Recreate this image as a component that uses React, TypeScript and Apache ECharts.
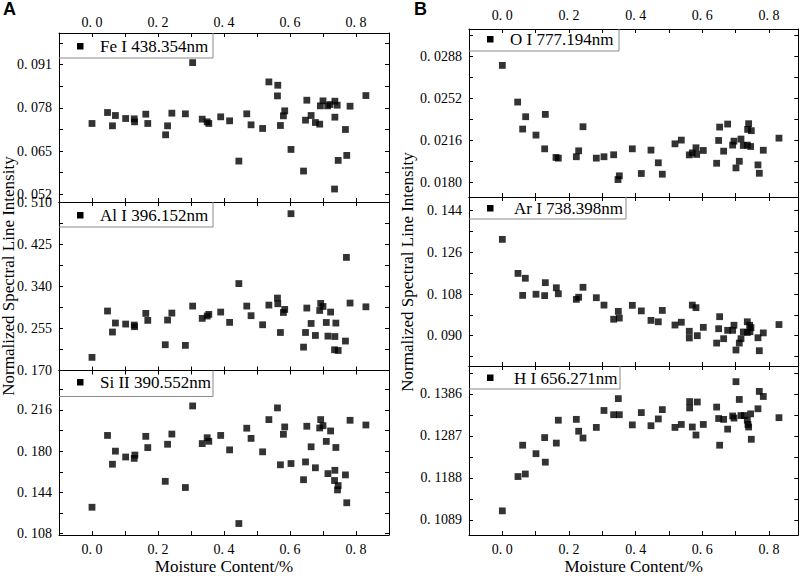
import React, { useEffect, useRef } from "react";
import * as echarts from "echarts";

// ---- data (moisture content, normalized intensity) ----
const feData = [[0.000,0.0733],[0.047,0.0766],[0.062,0.0726],[0.071,0.0757],[0.102,0.0748],[0.128,0.0747],[0.129,0.0738],[0.163,0.0761],[0.169,0.0733],[0.223,0.0699],[0.229,0.0726],[0.242,0.0764],[0.283,0.0762],[0.305,0.0916],[0.334,0.0746],[0.349,0.0738],[0.354,0.0733],[0.390,0.0753],[0.417,0.0741],[0.445,0.0620],[0.469,0.0762],[0.482,0.0729],[0.517,0.0718],[0.536,0.0858],[0.563,0.0848],[0.562,0.0816],[0.571,0.0727],[0.580,0.0756],[0.584,0.0771],[0.603,0.0655],[0.641,0.0590],[0.647,0.0743],[0.651,0.0803],[0.664,0.0757],[0.677,0.0736],[0.690,0.0731],[0.692,0.0786],[0.700,0.0801],[0.714,0.0786],[0.721,0.0790],[0.736,0.0800],[0.743,0.0788],[0.736,0.0752],[0.735,0.0536],[0.746,0.0622],[0.768,0.0715],[0.772,0.0637],[0.782,0.0785],[0.830,0.0817]];
const alData = [[0.000,0.1965],[0.047,0.290],[0.062,0.2476],[0.071,0.2658],[0.102,0.2637],[0.128,0.2617],[0.129,0.2584],[0.163,0.2852],[0.169,0.2711],[0.222,0.222],[0.229,0.2718],[0.242,0.2859],[0.283,0.2207],[0.305,0.300],[0.334,0.2752],[0.349,0.2799],[0.354,0.2832],[0.390,0.2879],[0.417,0.2671],[0.445,0.3454],[0.469,0.300],[0.482,0.2806],[0.517,0.2623],[0.536,0.302],[0.562,0.3162],[0.563,0.3047],[0.571,0.2467],[0.580,0.2871],[0.584,0.2932],[0.603,0.4864],[0.641,0.2172],[0.647,0.2467],[0.651,0.2960],[0.664,0.2649],[0.677,0.2407],[0.690,0.2911],[0.693,0.3053],[0.700,0.2992],[0.710,0.2669],[0.715,0.2394],[0.723,0.2879],[0.735,0.2118],[0.736,0.2386],[0.739,0.2657],[0.746,0.2104],[0.768,0.2294],[0.771,0.3982],[0.782,0.3061],[0.830,0.2985]];
const siData = [[0.000,0.1311],[0.047,0.1937],[0.062,0.1686],[0.071,0.1800],[0.102,0.1749],[0.128,0.1737],[0.130,0.1766],[0.163,0.1929],[0.169,0.1831],[0.222,0.1537],[0.229,0.1860],[0.242,0.1949],[0.283,0.1483],[0.305,0.2194],[0.334,0.1866],[0.349,0.1917],[0.354,0.1886],[0.390,0.1937],[0.417,0.1811],[0.445,0.1169],[0.469,0.2000],[0.482,0.1911],[0.517,0.1794],[0.536,0.2075],[0.562,0.2177],[0.571,0.1681],[0.580,0.1947],[0.584,0.2011],[0.603,0.1692],[0.641,0.1551],[0.647,0.1706],[0.651,0.2017],[0.664,0.1838],[0.677,0.1655],[0.690,0.2002],[0.693,0.2075],[0.700,0.2022],[0.710,0.1885],[0.715,0.1604],[0.723,0.1976],[0.735,0.1544],[0.736,0.1633],[0.739,0.1832],[0.744,0.1462],[0.746,0.1500],[0.768,0.1593],[0.772,0.1350],[0.782,0.2069],[0.830,0.2028]];
const oData = [[0.000,0.02805],[0.046,0.0249],[0.061,0.02258],[0.070,0.02364],[0.101,0.02206],[0.127,0.02088],[0.129,0.02384],[0.161,0.02014],[0.168,0.02008],[0.222,0.0202],[0.229,0.02071],[0.242,0.02278],[0.282,0.02008],[0.305,0.0202],[0.334,0.02037],[0.347,0.01824],[0.351,0.01856],[0.390,0.02088],[0.417,0.01876],[0.446,0.02077],[0.468,0.01968],[0.480,0.01870],[0.518,0.02131],[0.537,0.02163],[0.561,0.02036],[0.570,0.02053],[0.581,0.02097],[0.583,0.0204],[0.603,0.02074],[0.643,0.01964],[0.649,0.0216],[0.652,0.02275],[0.664,0.02068],[0.676,0.02301],[0.691,0.0212],[0.695,0.02154],[0.701,0.01924],[0.711,0.01981],[0.716,0.02172],[0.723,0.02117],[0.735,0.0212],[0.736,0.02255],[0.739,0.02304],[0.745,0.02108],[0.747,0.02244],[0.767,0.0195],[0.771,0.01878],[0.783,0.02076],[0.830,0.0218]];
const arData = [[0.000,0.1316],[0.047,0.1169],[0.061,0.1074],[0.069,0.1148],[0.101,0.1079],[0.127,0.1073],[0.129,0.1129],[0.162,0.1107],[0.168,0.1081],[0.222,0.1057],[0.229,0.1066],[0.242,0.1109],[0.282,0.1064],[0.305,0.1032],[0.334,0.0971],[0.348,0.1005],[0.351,0.0976],[0.390,0.1031],[0.417,0.1007],[0.446,0.0966],[0.468,0.0960],[0.480,0.1009],[0.518,0.0946],[0.537,0.0958],[0.561,0.0919],[0.561,0.0890],[0.570,0.1032],[0.581,0.1021],[0.585,0.0900],[0.603,0.0936],[0.643,0.0868],[0.649,0.0930],[0.652,0.0982],[0.664,0.0887],[0.676,0.0923],[0.691,0.0923],[0.695,0.0945],[0.701,0.0838],[0.711,0.0868],[0.716,0.0887],[0.723,0.0916],[0.735,0.0960],[0.735,0.0914],[0.742,0.0945],[0.743,0.0917],[0.746,0.0935],[0.767,0.0891],[0.771,0.0835],[0.783,0.0912],[0.830,0.0948]];
const hData = [[0.000,0.1110],[0.047,0.1191],[0.061,0.1265],[0.069,0.1197],[0.101,0.1245],[0.127,0.1283],[0.129,0.1225],[0.162,0.1270],[0.168,0.1324],[0.222,0.1326],[0.229,0.1298],[0.242,0.1282],[0.282,0.1307],[0.305,0.1347],[0.334,0.1337],[0.348,0.1375],[0.351,0.1337],[0.390,0.1313],[0.417,0.1342],[0.446,0.1311],[0.468,0.1327],[0.480,0.1349],[0.518,0.1307],[0.537,0.1314],[0.562,0.1368],[0.562,0.1353],[0.570,0.1308],[0.581,0.1289],[0.585,0.1367],[0.603,0.1314],[0.643,0.1355],[0.649,0.1328],[0.652,0.1265],[0.664,0.1326],[0.676,0.1303],[0.691,0.1334],[0.695,0.1329],[0.701,0.1415],[0.711,0.1373],[0.716,0.1335],[0.726,0.1335],[0.735,0.1324],[0.737,0.1314],[0.739,0.1308],[0.745,0.1339],[0.747,0.1279],[0.767,0.1351],[0.771,0.1392],[0.783,0.1380],[0.830,0.1330]];

// ---- tick labels ----
const xTickLabels = [0, 0.2, 0.4, 0.6, 0.8];
const xTickMarks = [0, 0.1, 0.2, 0.3, 0.4, 0.5, 0.6, 0.7, 0.8];
const feTicks = [0.052, 0.065, 0.078, 0.091];
const alTicks = [0.170, 0.255, 0.340, 0.425, 0.510];
const siTicks = [0.108, 0.144, 0.180, 0.216];
const oTicks = [0.0180, 0.0216, 0.0252, 0.0288];
const arTicks = [0.090, 0.108, 0.126, 0.144];
const hTicks = [0.1089, 0.1188, 0.1287, 0.1386];

const seriesNames = ["Fe I 438.354nm", "Al I 396.152nm", "Si II 390.552nm", "O I 777.194nm", "Ar I 738.398nm", "H I 656.271nm"];
const xTitle = "Moisture Content/%";
const yTitle = "Normalized Spectral Line Intensity";

const SERIF = '"Liberation Serif", "Times New Roman", "DejaVu Serif", serif';

// ---- layout (positions/sizes only) ----
const panels = [
  { name: seriesNames[0], data: feData, ticks: feTicks, dec: 3, left: 59, top: 33, width: 330, height: 169, xMax: 0.9, yMin: 0.0497, yMax: 0.1005, topLabels: true, bottomLabels: false, topMargin: 3.5, lgW: 154, lgH: 25, mkY: 43, txX: 100 },
  { name: seriesNames[1], data: alData, ticks: alTicks, dec: 3, left: 59, top: 202, width: 330, height: 168.5, xMax: 0.9, yMin: 0.170, yMax: 0.510, topLabels: false, bottomLabels: false, topMargin: 3.5, lgW: 154, lgH: 25, mkY: 212, txX: 100 },
  { name: seriesNames[2], data: siData, ticks: siTicks, dec: 3, left: 59, top: 370.5, width: 330, height: 166.5, xMax: 0.9, yMin: 0.1069, yMax: 0.2503, topLabels: false, bottomLabels: true, topMargin: 3.5, lgW: 154, lgH: 26, mkY: 379, txX: 100 },
  { name: seriesNames[3], data: oData, ticks: oTicks, dec: 4, left: 469, top: 29, width: 329.3, height: 168, xMax: 0.888, yMin: 0.01674, yMax: 0.03118, topLabels: true, bottomLabels: false, topMargin: 7, lgW: 150, lgH: 22, mkY: 36, txX: 510 },
  { name: seriesNames[4], data: arData, ticks: arTicks, dec: 3, left: 469, top: 197, width: 329.3, height: 169, xMax: 0.888, yMin: 0.0769, yMax: 0.1499, topLabels: false, bottomLabels: false, topMargin: 7, lgW: 157, lgH: 22, mkY: 205, txX: 514 },
  { name: seriesNames[5], data: hData, ticks: hTicks, dec: 4, left: 469, top: 366, width: 329.3, height: 170, xMax: 0.888, yMin: 0.1053, yMax: 0.1452, topLabels: false, bottomLabels: true, topMargin: 7, lgW: 151, lgH: 23, mkY: 374.5, txX: 514 },
];

function fmt(v: number, d: number) {
  return v.toFixed(d).replace(".", ". ");
}

function halfTicks(major: number[], min: number, max: number) {
  const step = (major[1] - major[0]) / 2;
  const out: number[] = [];
  for (let k = -6; k <= major.length * 2 + 6; k++) {
    const v = major[0] + k * step;
    if (v >= min - 1e-9 && v <= max + 1e-9) out.push(+v.toFixed(6));
  }
  return out;
}

function buildOption() {
  const grid: any[] = [];
  const xAxis: any[] = [];
  const yAxis: any[] = [];
  const series: any[] = [];
  const graphic: any[] = [];
  const lineStyle = { color: "#000", width: 1 };
  const tickStyle = { color: "#000", width: 1 };
  const labelBase = { color: "#000", fontFamily: SERIF, fontSize: 14 };

  panels.forEach((p, i) => {
    grid.push({ left: p.left, top: p.top, width: p.width, height: p.height, containLabel: false });
    const xBase = {
      type: "value", gridIndex: i, min: -0.1, max: p.xMax,
      splitLine: { show: false },
      axisLine: { show: true, onZero: false, lineStyle },
      axisTick: { show: true, inside: true, length: 4, customValues: xTickMarks, lineStyle: tickStyle },
    };
    xAxis.push({
      ...xBase, position: "bottom",
      axisLabel: { show: p.bottomLabels, customValues: xTickLabels, formatter: (v: number) => fmt(v, 1), margin: 7, ...labelBase },
      name: p.bottomLabels ? xTitle : "", nameLocation: "middle", nameGap: 23,
      nameTextStyle: { color: "#000", fontFamily: SERIF, fontSize: 17 },
    });
    xAxis.push({
      ...xBase, position: "top",
      axisLabel: { show: p.topLabels, customValues: xTickLabels, formatter: (v: number) => fmt(v, 1), margin: p.topMargin, ...labelBase },
    });
    const yTickVals = halfTicks(p.ticks, p.yMin, p.yMax);
    const yBase = {
      type: "value", gridIndex: i, min: p.yMin, max: p.yMax,
      splitLine: { show: false },
      axisLine: { show: true, onZero: false, lineStyle },
      axisTick: { show: true, inside: true, length: 4, customValues: yTickVals, lineStyle: tickStyle },
    };
    yAxis.push({
      ...yBase, position: "left",
      axisLabel: { show: true, customValues: p.ticks, formatter: (v: number) => fmt(v, p.dec), margin: 7, ...labelBase },
    });
    yAxis.push({ ...yBase, position: "right", axisLabel: { show: false } });

    series.push({
      type: "scatter", name: p.name, data: p.data,
      xAxisIndex: 2 * i, yAxisIndex: 2 * i,
      symbol: "rect", symbolSize: 6.8,
      itemStyle: { color: "#000" },
    });

    // legend box (top-left of each panel)
    const x0 = p.left, y0 = p.top, x1 = p.left + p.lgW, y1 = p.top + p.lgH;
    graphic.push({
      type: "polyline", z: 10,
      shape: { points: [[x0, y1], [x1, y1], [x1, y0]] },
      style: { stroke: "#8a8a8a", lineWidth: 1, fill: null },
    });
    graphic.push({
      type: "rect", z: 10,
      shape: { x: p.left + 18, y: p.mkY, width: 6.5, height: 6.5 },
      style: { fill: "#000" },
    });
    graphic.push({
      type: "text", z: 10, x: p.txX, y: p.mkY + 3.5,
      style: { text: p.name, fontFamily: SERIF, fontSize: 17, fill: "#000", align: "left", verticalAlign: "middle" },
    });
  });

  graphic.push({
    type: "text", x: 8.5, y: 276, rotation: Math.PI / 2,
    style: { text: yTitle, fontFamily: SERIF, fontSize: 17, fill: "#000", align: "center", verticalAlign: "middle" },
  });
  graphic.push({
    type: "text", x: 407, y: 272, rotation: Math.PI / 2,
    style: { text: yTitle, fontFamily: SERIF, fontSize: 17, fill: "#000", align: "center", verticalAlign: "middle" },
  });
  graphic.push({
    type: "text", x: 3, y: 9,
    style: { text: "A", fontFamily: '"Liberation Sans", Arial, sans-serif', fontWeight: "bold", fontSize: 18, fill: "#000", align: "left", verticalAlign: "middle" },
  });
  graphic.push({
    type: "text", x: 414, y: 9,
    style: { text: "B", fontFamily: '"Liberation Sans", Arial, sans-serif', fontWeight: "bold", fontSize: 18, fill: "#000", align: "left", verticalAlign: "middle" },
  });

  return {
    animation: false,
    backgroundColor: "#fff",
    grid, xAxis, yAxis, series, graphic,
  };
}

export default function App() {
  const ref = useRef<HTMLDivElement>(null);
  useEffect(() => {
    if (!ref.current) return;
    const chart = echarts.init(ref.current, null, { renderer: "svg", width: 803, height: 576 });
    chart.setOption(buildOption() as any);
    return () => chart.dispose();
  }, []);
  return (
    <div
      ref={ref}
      style={{ position: "fixed", left: 0, top: 0, width: 803, height: 576, background: "#fff" }}
    />
  );
}
